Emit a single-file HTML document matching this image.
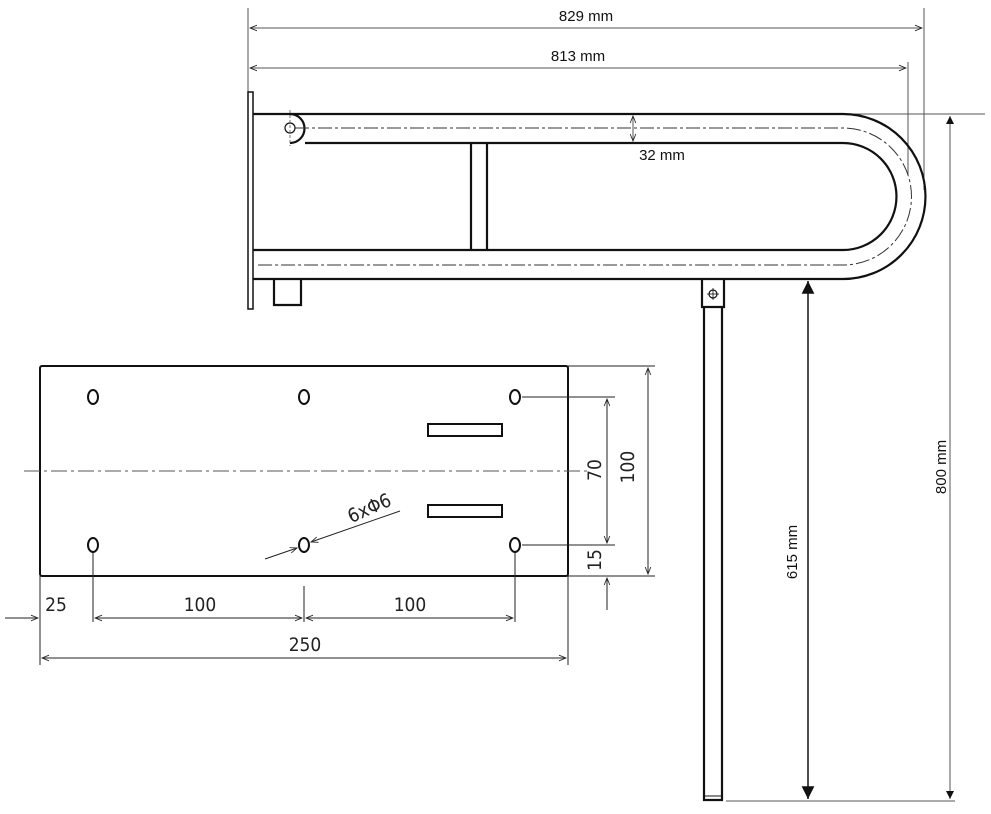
<!DOCTYPE html>
<html><head><meta charset="utf-8"><style>body{margin:0;background:#fff}svg{display:block}</style></head><body>
<svg width="991" height="814" viewBox="0 0 991 814" xmlns="http://www.w3.org/2000/svg" font-family="Liberation Sans, DejaVu Sans, sans-serif">
<defs>
<marker id="a" viewBox="0 0 10 10" refX="10" refY="5" markerWidth="9" markerHeight="7" orient="auto-start-reverse"><path d="M0,1 L10,5 L0,9" fill="none" stroke="#222" stroke-width="1.2"/></marker>
<marker id="f" viewBox="0 0 10 10" refX="10" refY="5" markerWidth="10" markerHeight="8" orient="auto-start-reverse"><path d="M0,0 L10,5 L0,10z" fill="#111"/></marker>
</defs>
<g stroke="#555" stroke-width="1" fill="none">
<line x1="248" y1="8" x2="248" y2="100"/><line x1="924" y1="8" x2="924" y2="190"/><line x1="908" y1="62" x2="908" y2="175"/>
<line x1="250" y1="28" x2="922" y2="28" marker-start="url(#a)" marker-end="url(#a)"/>
<line x1="250" y1="68" x2="906" y2="68" marker-start="url(#a)" marker-end="url(#a)"/>
<line x1="843" y1="114" x2="985" y2="114"/>
<line x1="726" y1="801" x2="955" y2="801"/>
<line x1="950" y1="116" x2="950" y2="799" marker-start="url(#f)" marker-end="url(#f)" stroke-width="1"/>
<line x1="808" y1="281" x2="808" y2="799" marker-start="url(#f)" marker-end="url(#f)" stroke="#222" stroke-width="1.6"/>
<line x1="633" y1="116" x2="633" y2="141" marker-start="url(#a)" marker-end="url(#a)"/>
</g>
<g fill="#111" font-size="15">
<text x="586" y="21" text-anchor="middle">829 mm</text>
<text x="578" y="61" text-anchor="middle">813 mm</text>
<text x="662" y="160" text-anchor="middle">32 mm</text>
<text transform="translate(946,467) rotate(-90)" text-anchor="middle">800 mm</text>
<text transform="translate(797,552) rotate(-90)" text-anchor="middle">615 mm</text>
</g>
<g stroke="#111" stroke-width="2.2" fill="none">
<rect x="248" y="92" width="5" height="217" stroke-width="1.5"/>
<path d="M253,114 H843 A82.5,82.5 0 0 1 843,279 H253"/>
<path d="M305,143 H843 A53.5,53.5 0 0 1 843,250 H253"/>
<path d="M290,114 A14.5,14.5 0 0 1 290,143"/>
<line x1="471" y1="143" x2="471" y2="250"/><line x1="487" y1="143" x2="487" y2="250"/>
<path d="M274,279 V305 H301 V279"/>
<path d="M702,279 V307 H724 V279"/>
<path d="M704,307 V800 H722 V307"/>
<line x1="704" y1="796" x2="722" y2="796" stroke-width="1"/>
</g>
<circle cx="290" cy="128" r="5" fill="none" stroke="#111" stroke-width="1.2"/>
<line x1="290" y1="110" x2="290" y2="146" stroke="#555" stroke-width="0.8" stroke-dasharray="3,2"/>
<circle cx="713" cy="294" r="4" fill="none" stroke="#111" stroke-width="1.2"/>
<line x1="707" y1="294" x2="719" y2="294" stroke="#111" stroke-width="0.8"/><line x1="713" y1="288" x2="713" y2="300" stroke="#111" stroke-width="0.8"/>
<g stroke="#333" stroke-width="1" fill="none" stroke-dasharray="14,3,3,3">
<path d="M295,128 H843 A68,68 0 0 1 843,265 H258"/>
</g>
<rect x="40" y="366" width="528" height="210" rx="2" fill="none" stroke="#111" stroke-width="2"/>
<line x1="24" y1="471" x2="590" y2="471" stroke="#555" stroke-width="1" stroke-dasharray="16,4,3,4"/>
<g fill="none" stroke="#111" stroke-width="2">
<ellipse cx="93" cy="397" rx="5" ry="7"/><ellipse cx="304" cy="397" rx="5" ry="7"/><ellipse cx="515" cy="397" rx="5" ry="7"/>
<ellipse cx="93" cy="545" rx="5" ry="7"/><ellipse cx="304" cy="545" rx="5" ry="7"/><ellipse cx="515" cy="545" rx="5" ry="7"/>
<rect x="428" y="424" width="74" height="12"/><rect x="428" y="505" width="74" height="12"/>
</g>
<g stroke="#222" stroke-width="1" fill="none">
<line x1="522" y1="397" x2="615" y2="397"/><line x1="522" y1="545" x2="615" y2="545"/>
<line x1="568" y1="366" x2="655" y2="366"/><line x1="568" y1="576" x2="655" y2="576"/>
<line x1="607" y1="399" x2="607" y2="543" marker-start="url(#a)" marker-end="url(#a)"/>
<line x1="607" y1="578" x2="607" y2="610" marker-start="url(#a)"/>
<line x1="648" y1="368" x2="648" y2="574" marker-start="url(#a)" marker-end="url(#a)"/>
<line x1="40" y1="576" x2="40" y2="665"/><line x1="568" y1="576" x2="568" y2="665"/>
<line x1="93" y1="552" x2="93" y2="622"/><line x1="515" y1="552" x2="515" y2="622"/><line x1="304" y1="586" x2="304" y2="622"/>
<line x1="5" y1="618" x2="38" y2="618" marker-end="url(#a)"/>
<line x1="95" y1="618" x2="302" y2="618" marker-start="url(#a)" marker-end="url(#a)"/>
<line x1="306" y1="618" x2="513" y2="618" marker-start="url(#a)" marker-end="url(#a)"/>
<line x1="42" y1="658" x2="566" y2="658" marker-start="url(#a)" marker-end="url(#a)"/>
<line x1="400" y1="511" x2="311" y2="542" marker-end="url(#a)"/>
<line x1="265" y1="559" x2="297" y2="548" marker-end="url(#a)"/>
</g>
<g fill="#222" font-size="19" font-family="DejaVu Sans Condensed, Liberation Sans Narrow, sans-serif">
<text x="56" y="611" text-anchor="middle">25</text>
<text x="200" y="611" text-anchor="middle">100</text>
<text x="410" y="611" text-anchor="middle">100</text>
<text x="305" y="651" text-anchor="middle">250</text>
<text transform="translate(601,470) rotate(-90)" text-anchor="middle">70</text>
<text transform="translate(634,467) rotate(-90)" text-anchor="middle">100</text>
<text transform="translate(601,560) rotate(-90)" text-anchor="middle">15</text>
<text transform="translate(372,514) rotate(-24)" text-anchor="middle">6xΦ6</text>
</g>
</svg>
</body></html>
